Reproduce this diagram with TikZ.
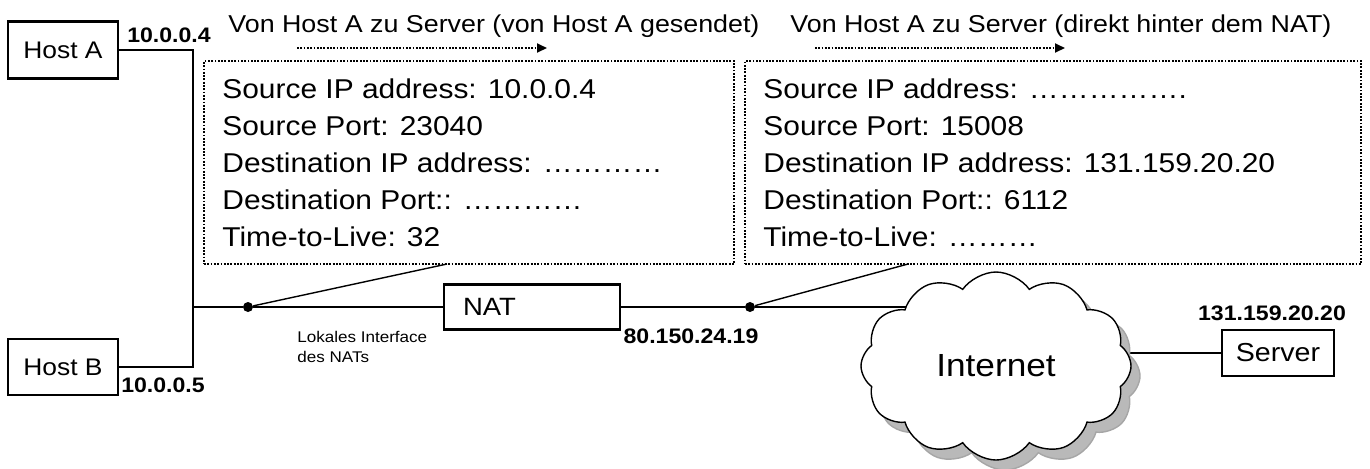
\documentclass[tikz,border=0pt]{standalone}
\usepackage{fontspec}
\setmainfont{Liberation Sans}[FakeStretch=1.1]
\usetikzlibrary{arrows.meta,shapes.symbols,backgrounds}

\begin{document}
\begin{tikzpicture}[x=0.5pt,y=-0.5pt,
  hostbox/.style={rectangle,draw,line width=1.1pt,inner sep=0pt,fill=white},
  pktbox/.style={rectangle,draw,line width=0.9pt,dash pattern=on 0.9pt off 0.75pt,inner sep=0pt},
  addr/.style={inner sep=0pt,font=\bfseries\fontsize{10.5}{12}\selectfont},
  info/.style={inner sep=0pt,anchor=north west,align=left,font=\fontsize{13.6}{18.5}\selectfont},
  heading/.style={inner sep=0pt,anchor=base west,font=\fontsize{12.2}{14}\selectfont},
  flow/.style={line width=0.9pt,dash pattern=on 0.9pt off 0.75pt,-{Triangle[length=5pt,width=4.5pt]}},
  wire/.style={line width=1pt},
  tap/.style={line width=0.7pt},
  joint/.style={circle,fill,inner sep=0pt,minimum size=5pt},
  netcloud/.style={cloud,cloud puffs=12,cloud puff arc=110,aspect=1.45,inner sep=0pt,
    minimum width=135pt,minimum height=94pt}]

\useasboundingbox (0,0) rectangle (1370,468);

\coordinate (HA) at (63,50);
\coordinate (HB) at (63,367);
\coordinate (J) at (193,307);
\coordinate (DL) at (248,307);
\coordinate (N) at (532,307);
\coordinate (DR) at (750,307);
\coordinate (I) at (996,366);
\coordinate (IS) at (1005,376);
\coordinate (S) at (1278,353);
\coordinate (PA) at (469,162.5);
\coordinate (PB) at (1053,162.5);
\coordinate (TA) at (447,264);
\coordinate (TB) at (908,264);


\node[hostbox,minimum width=55pt,minimum height=28.5pt,font=\fontsize{12}{14}\selectfont] (hostA) at (HA) {Host A};
\node[hostbox,minimum width=55pt,minimum height=28pt,font=\fontsize{12}{14}\selectfont] (hostB) at (HB) {Host B};
\node[addr] (ipA) at (169,35) {10.0.0.4};
\node[addr] (ipB) at (163,385) {10.0.0.5};

\node[pktbox,minimum width=265pt,minimum height=101.5pt] (pktA) at (PA) {};
\node[pktbox,minimum width=308pt,minimum height=101.5pt] (pktB) at (PB) {};
\node[info] (infoA) at (222,78) {Source IP address: 10.0.0.4\\Source Port: 23040\\Destination IP address: \dots\dots\dots\dots\\Destination Port:: \dots\dots\dots\dots\\Time-to-Live: 32};
\node[info] (infoB) at (763,78) {Source IP address: \dots\dots\dots\dots\dots.\\Source Port: 15008\\Destination IP address: 131.159.20.20\\Destination Port:: 6112\\Time-to-Live: \dots\dots\dots};
\node[heading] (headA) at (228,32) {Von Host A zu Server (von Host A gesendet)};
\node[heading] (headB) at (790,32) {Von Host A zu Server (direkt hinter dem NAT)};
\coordinate (fa) at (297,48);
\coordinate (fb) at (815,48);

\node[joint] (dotL) at (DL) {};
\node[joint] (dotR) at (DR) {};
\node[hostbox,minimum width=88pt,minimum height=22.5pt,text width=69pt,inner xsep=9.5pt,align=left,font=\fontsize{12.5}{14}\selectfont] (nat) at (N) {NAT};
\node[inner sep=0pt,anchor=north west,align=left,font=\fontsize{7.75}{10}\selectfont] (lokal) at (297,331) {Lokales Interface\\des NATs};
\node[addr] (ipN) at (691,336) {80.150.24.19};

% cloud with its grey shadow
\node[netcloud,draw=gray!70,line width=0.7pt,fill=gray!55] (shade) at (IS) {};
\node[netcloud,draw,line width=0.7pt,fill=white,font=\fontsize{16}{18}\selectfont] (inet) at (I) {Internet};
\node[hostbox,minimum width=56pt,minimum height=23pt,font=\fontsize{13}{15}\selectfont] (srv) at (S) {Server};
\node[addr] (ipS) at (1272,313) {131.159.20.20};

\begin{scope}[on background layer]
\draw[wire] (hostA.east) -| (J) |- (hostB.east);
\draw[wire] (J) -- (dotL) -- (nat);
\draw[wire] (nat) -- (dotR) -- (dotR -| inet.center);
\draw[wire] (srv.west) -- (srv.west -| inet.center);
\end{scope}
\draw[tap] (dotL) -- (TA);
\draw[tap] (dotR) -- (TB);

\draw[flow] (fa) -- ++(250,0);
\draw[flow] (fb) -- ++(250,0);


\end{tikzpicture}
\end{document}
